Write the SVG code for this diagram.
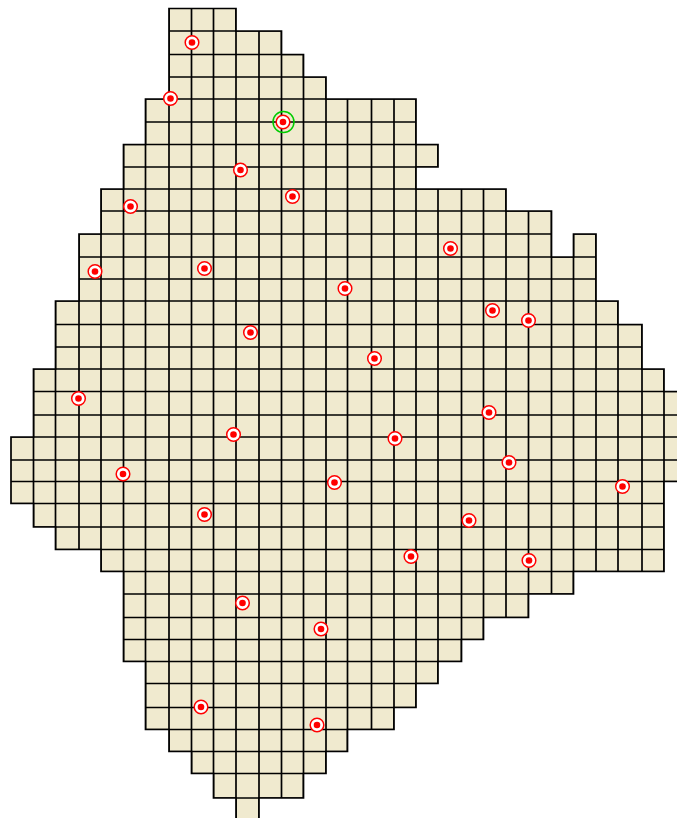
<svg xmlns="http://www.w3.org/2000/svg" xmlns:xlink="http://www.w3.org/1999/xlink" width="677" height="818" viewBox="0 0 677 818">
<style>
.grid line{stroke:#000;stroke-width:1.7}
.outline{fill:none;stroke:#000;stroke-width:1.7}
.ring{fill:#fff;stroke:#f00;stroke-width:1.5}
.dot{fill:#f00}
.sel{fill:none;stroke:#0c0;stroke-width:1.5}
</style>
<defs>
<path id="shape" d="M169,8.5 H236 V31 H281.5 V54.5 H303.5 V77 H326 V99 H416 V144.5 H438 V167 H416 V189 H506 V211 H551.5 V257 H573.5 V234 H596 V301 H618 V324.5 H642 V369 H664 V391.5 H686.5 V481.5 H664 V571.5 H573.5 V594 H528.5 V617.5 H483.5 V639.5 H461.5 V661.5 H438 V683.5 H416 V707.5 H394 V729.5 H347.5 V751.5 H326 V773.5 H303.5 V798 H259 V820.5 H236 V798 H213.5 V773.5 H191.5 V751.5 H169 V729.5 H145.5 V661.5 H123.5 V571.5 H101 V549.5 H55.5 V527 H33.5 V503.5 H11 V437 H33.5 V369 H55.5 V301 H79 V234 H101 V189 H123.5 V144.5 H145.5 V99 H169 Z"/>
<clipPath id="clip"><use xlink:href="#shape"/></clipPath>
<g id="mk"><circle class="ring" r="6.8"/><circle class="dot" r="3.3"/></g>
</defs>
<g id="grid">
<use xlink:href="#shape" fill="#f0eacf"/>
<g class="grid" clip-path="url(#clip)">
<line x1="33.5" y1="0" x2="33.5" y2="822"/>
<line x1="55.5" y1="0" x2="55.5" y2="822"/>
<line x1="79" y1="0" x2="79" y2="822"/>
<line x1="101" y1="0" x2="101" y2="822"/>
<line x1="123.5" y1="0" x2="123.5" y2="822"/>
<line x1="145.5" y1="0" x2="145.5" y2="822"/>
<line x1="169" y1="0" x2="169" y2="822"/>
<line x1="191.5" y1="0" x2="191.5" y2="822"/>
<line x1="213.5" y1="0" x2="213.5" y2="822"/>
<line x1="236" y1="0" x2="236" y2="822"/>
<line x1="259" y1="0" x2="259" y2="822"/>
<line x1="281.5" y1="0" x2="281.5" y2="822"/>
<line x1="303.5" y1="0" x2="303.5" y2="822"/>
<line x1="326" y1="0" x2="326" y2="822"/>
<line x1="347.5" y1="0" x2="347.5" y2="822"/>
<line x1="371.5" y1="0" x2="371.5" y2="822"/>
<line x1="394" y1="0" x2="394" y2="822"/>
<line x1="416" y1="0" x2="416" y2="822"/>
<line x1="438" y1="0" x2="438" y2="822"/>
<line x1="461.5" y1="0" x2="461.5" y2="822"/>
<line x1="483.5" y1="0" x2="483.5" y2="822"/>
<line x1="506" y1="0" x2="506" y2="822"/>
<line x1="528.5" y1="0" x2="528.5" y2="822"/>
<line x1="551.5" y1="0" x2="551.5" y2="822"/>
<line x1="573.5" y1="0" x2="573.5" y2="822"/>
<line x1="596" y1="0" x2="596" y2="822"/>
<line x1="618" y1="0" x2="618" y2="822"/>
<line x1="642" y1="0" x2="642" y2="822"/>
<line x1="664" y1="0" x2="664" y2="822"/>
<line x1="0" y1="31" x2="690" y2="31"/>
<line x1="0" y1="54.5" x2="690" y2="54.5"/>
<line x1="0" y1="77" x2="690" y2="77"/>
<line x1="0" y1="99" x2="690" y2="99"/>
<line x1="0" y1="122" x2="690" y2="122"/>
<line x1="0" y1="144.5" x2="690" y2="144.5"/>
<line x1="0" y1="167" x2="690" y2="167"/>
<line x1="0" y1="189" x2="690" y2="189"/>
<line x1="0" y1="211" x2="690" y2="211"/>
<line x1="0" y1="234" x2="690" y2="234"/>
<line x1="0" y1="257" x2="690" y2="257"/>
<line x1="0" y1="279" x2="690" y2="279"/>
<line x1="0" y1="301" x2="690" y2="301"/>
<line x1="0" y1="324.5" x2="690" y2="324.5"/>
<line x1="0" y1="347" x2="690" y2="347"/>
<line x1="0" y1="369" x2="690" y2="369"/>
<line x1="0" y1="391.5" x2="690" y2="391.5"/>
<line x1="0" y1="415" x2="690" y2="415"/>
<line x1="0" y1="437" x2="690" y2="437"/>
<line x1="0" y1="460" x2="690" y2="460"/>
<line x1="0" y1="481.5" x2="690" y2="481.5"/>
<line x1="0" y1="503.5" x2="690" y2="503.5"/>
<line x1="0" y1="527" x2="690" y2="527"/>
<line x1="0" y1="549.5" x2="690" y2="549.5"/>
<line x1="0" y1="571.5" x2="690" y2="571.5"/>
<line x1="0" y1="594" x2="690" y2="594"/>
<line x1="0" y1="617.5" x2="690" y2="617.5"/>
<line x1="0" y1="639.5" x2="690" y2="639.5"/>
<line x1="0" y1="661.5" x2="690" y2="661.5"/>
<line x1="0" y1="683.5" x2="690" y2="683.5"/>
<line x1="0" y1="707.5" x2="690" y2="707.5"/>
<line x1="0" y1="729.5" x2="690" y2="729.5"/>
<line x1="0" y1="751.5" x2="690" y2="751.5"/>
<line x1="0" y1="773.5" x2="690" y2="773.5"/>
<line x1="0" y1="798" x2="690" y2="798"/>
</g>
<use xlink:href="#shape" class="outline"/>
</g>
<g id="p1"><use xlink:href="#mk" x="192" y="42.5"/></g>
<g id="p2"><use xlink:href="#mk" x="170.5" y="98.5"/></g>
<g id="p3"><use xlink:href="#mk" x="283" y="122"/><circle class="sel" cx="283.5" cy="122" r="10.5"/></g>
<g id="p4"><use xlink:href="#mk" x="240.5" y="170"/></g>
<g id="p5"><use xlink:href="#mk" x="292.5" y="196.5"/></g>
<g id="p6"><use xlink:href="#mk" x="130.5" y="206.5"/></g>
<g id="p7"><use xlink:href="#mk" x="450.5" y="248.5"/></g>
<g id="p8"><use xlink:href="#mk" x="95" y="271.5"/></g>
<g id="p9"><use xlink:href="#mk" x="204.5" y="268.5"/></g>
<g id="p10"><use xlink:href="#mk" x="345" y="288.5"/></g>
<g id="p11"><use xlink:href="#mk" x="492.5" y="310.5"/></g>
<g id="p12"><use xlink:href="#mk" x="528.5" y="320.5"/></g>
<g id="p13"><use xlink:href="#mk" x="250.5" y="332.5"/></g>
<g id="p14"><use xlink:href="#mk" x="374.5" y="358.5"/></g>
<g id="p15"><use xlink:href="#mk" x="78.5" y="398.5"/></g>
<g id="p16"><use xlink:href="#mk" x="489" y="412.5"/></g>
<g id="p17"><use xlink:href="#mk" x="233.5" y="434.5"/></g>
<g id="p18"><use xlink:href="#mk" x="395" y="438.5"/></g>
<g id="p19"><use xlink:href="#mk" x="509" y="462.5"/></g>
<g id="p20"><use xlink:href="#mk" x="123" y="474"/></g>
<g id="p21"><use xlink:href="#mk" x="334.5" y="482.5"/></g>
<g id="p22"><use xlink:href="#mk" x="622.5" y="486.5"/></g>
<g id="p23"><use xlink:href="#mk" x="204.5" y="514.5"/></g>
<g id="p24"><use xlink:href="#mk" x="469" y="520.5"/></g>
<g id="p25"><use xlink:href="#mk" x="411" y="556.5"/></g>
<g id="p26"><use xlink:href="#mk" x="529" y="560.5"/></g>
<g id="p27"><use xlink:href="#mk" x="242.5" y="603"/></g>
<g id="p28"><use xlink:href="#mk" x="321" y="629"/></g>
<g id="p29"><use xlink:href="#mk" x="201" y="707"/></g>
<g id="p30"><use xlink:href="#mk" x="317" y="725"/></g>
</svg>
